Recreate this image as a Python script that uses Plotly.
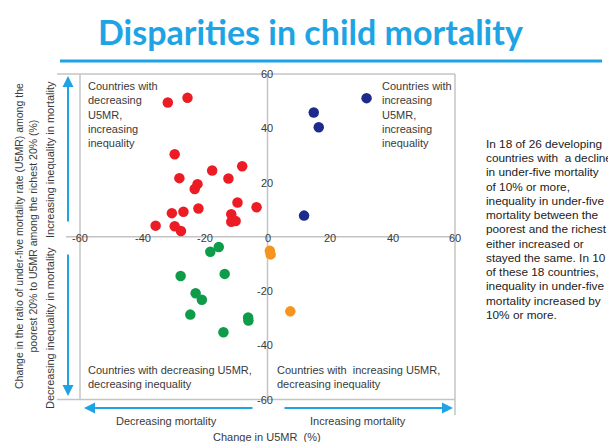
import plotly.graph_objects as go

# ---------------- data ----------------
red_x = [-31.9, -25.6, -29.7, -28.2, -17.7, -8.1, -12.5, -22.4, -23.3, -30.6,
         -26.9, -22.1, -9.6, -3.5, -11.6, -11.6, -10.2, -35.8, -29.7, -27.7]
red_y = [49.5, 51.2, 30.4, 21.6, 24.4, 26.0, 21.5, 19.4, 17.6, 8.7,
         9.2, 10.4, 12.6, 10.9, 8.3, 5.5, 5.8, 4.1, 3.9, 2.1]
blue_x = [31.7, 14.8, 16.4, 11.7]
blue_y = [51.1, 45.8, 40.4, 7.8]
green_x = [-15.6, -18.3, -27.8, -13.7, -23.0, -21.0, -24.7, -6.2, -6.1, -14.1]
green_y = [-3.8, -5.5, -14.5, -13.7, -20.8, -23.2, -28.7, -29.8, -30.9, -35.2]
orange_x = [0.75, 1.0, 7.3]
orange_y = [-5.2, -6.5, -27.5]

x_ticks = [-60, -40, -20, 0, 20, 40, 60]
y_ticks = [-60, -40, -20, 20, 40, 60]

note_lines = ["In 18 of 26 developing", "countries with  a decline", "in under-five mortality",
              "of 10% or more,", "inequality in under-five", "mortality between the",
              "poorest and the richest", "either increased or", "stayed the same. In 10",
              "of these 18 countries,", "inequality in under-five", "mortality increased by",
              "10% or more."]

W, H = 616, 442
OFF = 8                    # page body margin offset
X0, SX = 267.5, 3.125      # page pixel of x=0, px per unit
Y0, SY = 236.75, 2.7125    # page pixel of y=0, px per unit
xr = [(OFF - X0) / SX, (W + OFF - X0) / SX]
yr = [(Y0 - (H + OFF)) / SY, (Y0 - OFF) / SY]


def dx(p):  # page pixel -> data x
    return (p - X0) / SX


def dy(q):  # page pixel -> data y
    return (Y0 - q) / SY


GRAY = "#c4c4c4"
BLUE = "#1ea4e4"
TXT = "#3a3a3a"
FONT = "Liberation Sans Narrow, Arial Narrow, Liberation Sans, Arial, sans-serif"

fig = go.Figure()
marker_size = 10.5
for xs, ys, col in [(red_x, red_y, "#ec1c24"), (blue_x, blue_y, "#1f2b8c"),
                    (green_x, green_y, "#0f9c4a"), (orange_x, orange_y, "#f7941d")]:
    fig.add_trace(go.Scatter(x=xs, y=ys, mode="markers",
                             marker=dict(size=marker_size, color=col, line=dict(width=0)),
                             showlegend=False, hoverinfo="x+y"))

shapes = []
def line(x0, y0, x1, y1, color=GRAY, width=1.5):
    shapes.append(dict(type="line", xref="x", yref="y", x0=x0, y0=y0, x1=x1, y1=y1,
                       line=dict(color=color, width=width), layer="below"))

# frame / gridlines
line(dx(57), 60, 60, 60)
line(dx(57), -60, 60, -60)
line(-60, -60, -60, 60)
line(60, dy(415), 60, 60)
# axes through zero
line(dx(66), 0, 60, 0)
line(0, -60, 0, 60)
# title underline
line(dx(60), dy(61), dx(602), dy(61), color=BLUE, width=3)

annotations = []
# tick labels
for t in x_ticks:
    annotations.append(dict(x=t, y=0, text=str(t), showarrow=False,
                            xanchor="center", yanchor="middle", yshift=-1,
                            font=dict(size=11, color=TXT, family=FONT)))
for t in y_ticks:
    annotations.append(dict(x=0, y=t, text=str(t), showarrow=False,
                            xanchor="right", yanchor="middle", xshift=7,
                            font=dict(size=11, color=TXT, family=FONT)))

# title
annotations.append(dict(x=dx(310), y=dy(31), text="<b>Disparities in child mortality</b>",
                        showarrow=False, xanchor="center", yanchor="middle",
                        font=dict(size=34, color=BLUE, family="Lato, Open Sans, sans-serif")))

# quadrant labels
qfont = dict(size=11, color=TXT, family=FONT)
annotations.append(dict(x=dx(86), y=dy(78), text="Countries with<br>decreasing<br>U5MR,<br>increasing<br>inequality",
                        showarrow=False, xanchor="left", yanchor="top", align="left", font=qfont))
annotations.append(dict(x=dx(380), y=dy(78), text="Countries with<br>increasing<br>U5MR,<br>increasing<br>inequality",
                        showarrow=False, xanchor="left", yanchor="top", align="left", font=qfont))
annotations.append(dict(x=dx(86), y=dy(362), text="Countries with decreasing U5MR,<br>decreasing inequality",
                        showarrow=False, xanchor="left", yanchor="top", align="left", font=qfont))
annotations.append(dict(x=dx(275), y=dy(362), text="Countries with  increasing U5MR,<br>decreasing inequality",
                        showarrow=False, xanchor="left", yanchor="top", align="left", font=qfont))

# axis titles
annotations.append(dict(x=dx(26), y=dy(236), textangle=-90,
                        text="Change in the ratio of under-five mortality rate (U5MR) among the<br>poorest 20% to U5MR among the richest 20% (%)",
                        showarrow=False, xanchor="center", yanchor="middle",
                        font=dict(size=10.5, color=TXT, family=FONT)))
annotations.append(dict(x=dx(50), y=dy(160), textangle=-90, text="Increasing inequality in mortality",
                        showarrow=False, xanchor="center", yanchor="middle",
                        font=dict(size=11, color=TXT, family=FONT)))
annotations.append(dict(x=dx(50), y=dy(328), textangle=-90, text="Decreasing inequality in mortality",
                        showarrow=False, xanchor="center", yanchor="middle",
                        font=dict(size=11, color=TXT, family=FONT)))
annotations.append(dict(x=dx(166), y=dy(421), text="Decreasing mortality",
                        showarrow=False, xanchor="center", yanchor="middle",
                        font=dict(size=11, color=TXT, family=FONT)))
annotations.append(dict(x=dx(358), y=dy(421), text="Increasing mortality",
                        showarrow=False, xanchor="center", yanchor="middle",
                        font=dict(size=11, color=TXT, family=FONT)))
annotations.append(dict(x=dx(267), y=dy(437), text="Change in U5MR  (%)",
                        showarrow=False, xanchor="center", yanchor="middle",
                        font=dict(size=11, color=TXT, family=FONT)))

# arrows
def arrow(x_from, y_from, x_to, y_to):
    annotations.append(dict(x=dx(x_to), y=dy(y_to), ax=dx(x_from), ay=dy(y_from),
                            xref="x", yref="y", axref="x", ayref="y", text="",
                            showarrow=True, arrowhead=2, arrowsize=1.1, arrowwidth=2,
                            arrowcolor=BLUE))

arrow(68, 223, 68, 76)
arrow(68, 253, 68, 396)
arrow(254, 408, 84, 408)
arrow(283, 408, 453, 408)

# side note, one line at a time
for i, txt in enumerate(note_lines):
    annotations.append(dict(x=dx(484), y=dy(143.7 + i * 14.27), text=txt, showarrow=False,
                            xanchor="left", yanchor="middle", align="left",
                            font=dict(size=11.8, color="#222222",
                                      family="Liberation Sans, Arial, sans-serif")))

fig.update_layout(
    width=W, height=H, margin=dict(l=0, r=0, t=0, b=0),
    paper_bgcolor="white", plot_bgcolor="white",
    xaxis=dict(range=xr, visible=False, fixedrange=True),
    yaxis=dict(range=yr, visible=False, fixedrange=True),
    shapes=shapes, annotations=annotations,
)

fig.write_html("out.html")
